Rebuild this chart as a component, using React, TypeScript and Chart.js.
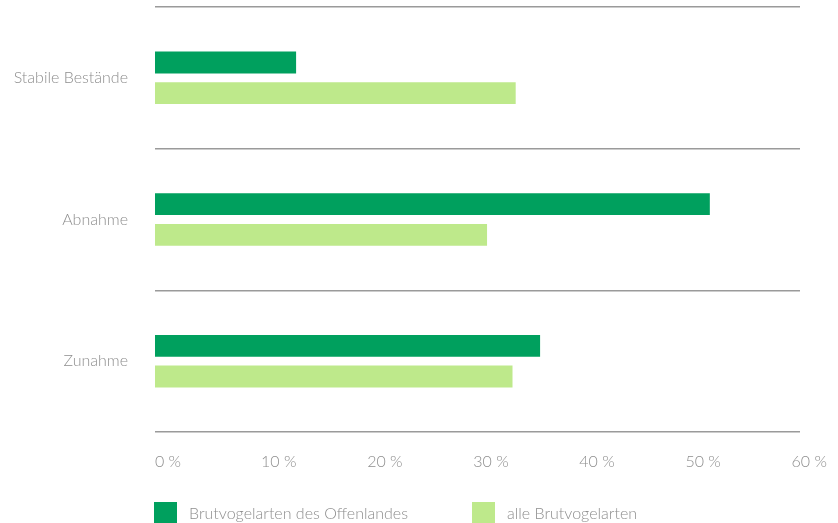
import React, { useEffect, useRef } from "react";
import { Chart, registerables } from "chart.js";

Chart.register(...registerables);

const categories = ["Stabile Bestände", "Abnahme", "Zunahme"];
const seriesNames = ["Brutvogelarten des Offenlandes", "alle Brutvogelarten"];
const offenland = [13.3, 52.3, 36.3];
const alle = [34.0, 31.3, 33.7];
const xTicks = [0, 10, 20, 30, 40, 50, 60];
const colors = ["#00a05e", "#bee98b"];

const FONT = "Lato, 'Open Sans', sans-serif";
const TEXT = "#8e8e8e";

const legendPlugin = {
  id: "customLegend",
  afterDraw(chart: any) {
    const ctx = chart.ctx;
    const left = chart.chartArea.left;
    const y = 502;
    const items = [
      { x: left - 1, label: seriesNames[0], color: colors[0] },
      { x: left + 317, label: seriesNames[1], color: colors[1] },
    ];
    ctx.save();
    ctx.font = `300 16px ${FONT}`;
    ctx.textBaseline = "middle";
    ctx.textAlign = "left";
    for (const it of items) {
      ctx.fillStyle = it.color;
      ctx.fillRect(it.x, y, 23, 21);
      ctx.fillStyle = TEXT;
      ctx.fillText(it.label, it.x + 35, y + 12);
    }
    ctx.restore();
  },
};

export default function App() {
  const ref = useRef<HTMLCanvasElement>(null);
  useEffect(() => {
    if (!ref.current) return;
    const chart = new Chart(ref.current, {
      type: "bar",
      data: {
        labels: categories,
        datasets: [
          { label: seriesNames[0], data: offenland, backgroundColor: colors[0] },
          { label: seriesNames[1], data: alle, backgroundColor: colors[1] },
        ],
      },
      options: {
        indexAxis: "y",
        animation: false,
        responsive: false,
        layout: { padding: { top: 7, right: 38, bottom: 0, left: 0 } },
        datasets: {
          bar: { categoryPercentage: 0.434, barPercentage: 0.71 },
        },
        plugins: { legend: { display: false }, tooltip: { enabled: false } },
        scales: {
          x: {
            min: 0,
            max: 60.8,
            afterBuildTicks: (s: any) => {
              s.ticks = xTicks.map((v) => ({ value: v }));
            },
            afterFit: (s: any) => {
              s.height = 91;
              s.paddingLeft = 0;
              s.paddingRight = 0;
              s.paddingTop = 0;
              s.paddingBottom = 0;
            },
            grid: { display: false, drawTicks: false },
            border: { display: false },
            ticks: {
              align: "start",
              padding: 20,
              color: TEXT,
              font: { family: FONT, size: 16, weight: "300" },
              callback: (v: any) => `${v} %`,
            },
          },
          y: {
            afterFit: (s: any) => {
              s.width = 155;
              s.paddingLeft = 0;
              s.paddingRight = 0;
              s.paddingTop = 0;
              s.paddingBottom = 0;
            },
            grid: {
              offset: true,
              drawTicks: false,
              color: "#9a9a9a",
              lineWidth: 1.5,
            },
            border: { display: false },
            ticks: {
              padding: 27,
              color: TEXT,
              font: { family: FONT, size: 16, weight: "300" },
            },
          },
        },
      },
      plugins: [legendPlugin],
    });
    return () => chart.destroy();
  }, []);
  return (
    <div style={{ position: "absolute", left: 0, top: 0, width: 838, height: 523 }}>
      <canvas ref={ref} width={838} height={523} />
    </div>
  );
}
